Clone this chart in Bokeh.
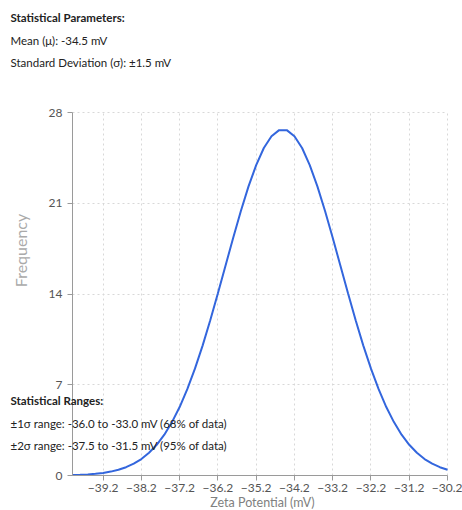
import math
from bokeh.plotting import figure
from bokeh.models import Label, FixedTicker, Range1d, Grid
from bokeh.embed import file_html
from bokeh.resources import INLINE

# ---- data ----
zeta = [-40.0, -39.8, -39.6, -39.4, -39.2, -39.0, -38.8, -38.6, -38.4, -38.2,
        -38.0, -37.8, -37.6, -37.4, -37.2, -37.0, -36.8, -36.6, -36.4, -36.2,
        -36.0, -35.8, -35.6, -35.4, -35.2, -35.0, -34.8, -34.6, -34.4, -34.2,
        -34.0, -33.8, -33.6, -33.4, -33.2, -33.0, -32.8, -32.6, -32.4, -32.2,
        -32.0, -31.8, -31.6, -31.4, -31.2, -31.0, -30.8, -30.6, -30.4, -30.2]
frequency = [0.03, 0.05, 0.08, 0.13, 0.20, 0.30, 0.44, 0.64, 0.91, 1.27,
             1.75, 2.37, 3.15, 4.12, 5.28, 6.66, 8.24, 10.02, 11.97, 14.05,
             16.19, 18.34, 20.40, 22.30, 23.94, 25.26, 26.17, 26.64, 26.64, 26.17,
             25.26, 23.94, 22.30, 20.40, 18.34, 16.19, 14.05, 11.97, 10.02, 8.24,
             6.66, 5.28, 4.12, 3.15, 2.37, 1.75, 1.27, 0.91, 0.64, 0.44]
x_ticks = [-39.2, -38.2, -37.2, -36.2, -35.2, -34.2, -33.2, -32.2, -31.2, -30.2]
y_ticks = [0, 7, 14, 21, 28]
header_lines = ["Statistical Parameters:", "Mean (\u03bc): -34.5 mV",
                "Standard Deviation (\u03c3): \u00b11.5 mV"]
range_lines = ["Statistical Ranges:",
               "\u00b11\u03c3 range: -36.0 to -33.0 mV (68% of data)",
               "\u00b12\u03c3 range: -37.5 to -31.5 mV (95% of data)"]
x_bounds = (-40.0, -30.2)
y_bounds = (0, 28)

FONT = "Lato"
W, H = 462, 510
# plot area of the reference: x from 72 to 447 px, y from 112 (28) to 475 (0)
px_per_x = (447 - 72) / (x_bounds[1] - x_bounds[0])
px_per_y = (475 - 112) / (y_bounds[1] - y_bounds[0])
x0 = x_bounds[0] - 72 / px_per_x
x1 = x0 + W / px_per_x
y0 = y_bounds[0] - (H - 475) / px_per_y
y1 = y0 + H / px_per_y

p = figure(width=W, height=H, output_backend="svg", toolbar_location=None,
           x_range=Range1d(x0, x1), y_range=Range1d(y0, y1),
           min_border_left=0, min_border_right=0, min_border_top=0,
           min_border_bottom=0)
p.outline_line_color = None
p.background_fill_color = "white"
p.border_fill_color = "white"

p.line(zeta, frequency, line_color="#3366dd", line_width=2)

xa, ya = p.xaxis[0], p.yaxis[0]
xa.fixed_location = y_bounds[0]
ya.fixed_location = x_bounds[0]
xa.bounds = x_bounds
ya.bounds = y_bounds
for ax in (xa, ya):
    ax.axis_line_color = "#9a9a9a"
    ax.major_tick_line_color = "#9a9a9a"
    ax.minor_tick_line_color = None
    ax.major_tick_in = 0
    ax.major_tick_out = 5
    ax.major_label_text_font = FONT
    ax.major_label_text_font_size = "12px"
    ax.major_label_text_color = "#555555"
xa.ticker = FixedTicker(ticks=x_ticks)
ya.ticker = FixedTicker(ticks=y_ticks)
xa.major_label_standoff = 3
ya.major_label_standoff = 5

xg, yg = p.xgrid[0], p.ygrid[0]
xg.ticker = FixedTicker(ticks=x_ticks)
yg.ticker = FixedTicker(ticks=y_ticks)
if "cross_bounds" in Grid.properties():
    xg.cross_bounds = y_bounds
    yg.cross_bounds = x_bounds
for g in (xg, yg):
    g.grid_line_color = "#d8d8d8"
    g.grid_line_dash = "2 3"
    g.grid_line_width = 1

# text placed by page pixel position (frame covers the whole canvas)
def add_text(txt, px, py, bold=False, color="#222222", size="11.5px", angle=0.0,
             align="left"):
    p.add_layout(Label(x=px, y=H - py, x_units="screen", y_units="screen",
                       text=txt, text_font=FONT, text_font_size=size,
                       text_font_style="bold" if bold else "normal",
                       text_color=color, text_baseline="middle", text_align=align,
                       angle=angle))

add_text(header_lines[0], 10, 17, bold=True)
add_text(header_lines[1], 10, 40)
add_text(header_lines[2], 10, 62)
add_text(range_lines[0], 10, 400, bold=True)
add_text(range_lines[1], 10, 423)
add_text(range_lines[2], 10, 445)
add_text("Zeta Potential (mV)", 262, 502, color="#808080", size="12.5px", align="center")
add_text("Frequency", 20, 250, color="#aaaaaa", size="16px", angle=math.pi / 2, align="center")

open("out.html", "w").write(file_html(p, INLINE))
